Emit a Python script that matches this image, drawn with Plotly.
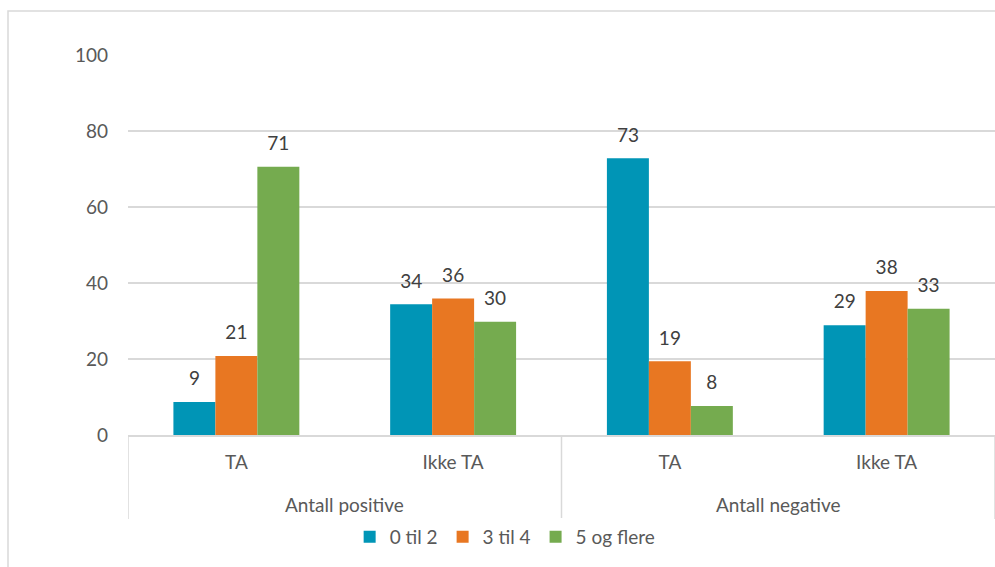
import plotly.graph_objects as go

group_names = ["Antall positive", "Antall negative"]
category_keys = ["pos_TA", "pos_IkkeTA", "neg_TA", "neg_IkkeTA"]
tick_labels = ["TA", "Ikke TA", "TA", "Ikke TA"]
series_names = ["0 til 2", "3 til 4", "5 og flere"]
v_0til2 = [8.7, 34.4, 72.8, 28.9]
v_3til4 = [20.8, 35.9, 19.4, 37.9]
v_5ogflere = [70.6, 29.8, 7.6, 33.2]
colors = ["#0095B6", "#E87722", "#75AB4F"]

font_family = "Lato, 'Source Sans Pro', 'Noto Sans', sans-serif"
text_color = "#595959"
grid = "#D9D9D9"
FS = 19

fig = go.Figure()
for name, vals, col in zip(series_names, [v_0til2, v_3til4, v_5ogflere], colors):
    fig.add_trace(go.Bar(
        x=category_keys, y=vals, name=name,
        marker=dict(color=col, line=dict(width=0)),
        texttemplate="<span style='font-size:" + str(FS) + "px'>%{y:.0f}</span><br>&nbsp;",
        textposition="outside",
        textfont=dict(size=9, color="#404040", family=font_family),
        cliponaxis=False,
    ))

annotations = []
for i, g in enumerate(group_names):
    annotations.append(dict(x=2 * i + 0.5, xref="x", y=(435 - 505) / 380, yref="paper",
                            text=g, showarrow=False, yanchor="middle", xanchor="center",
                            font=dict(size=FS, color=text_color, family=font_family)))

shapes = [dict(type="rect", xref="paper", yref="paper",
               x0=(8 - 128) / 867, x1=1.2, y0=-0.6, y1=(435 - 11) / 380,
               line=dict(color=grid, width=1.5), layer="below")]
for xd in [-0.5, 1.5, 3.5]:
    shapes.append(dict(type="line", xref="x", yref="paper", x0=xd, x1=xd,
                       y0=0, y1=(435 - 519) / 380, line=dict(color=grid, width=1.5)))

fig.update_layout(
    width=995, height=567,
    margin=dict(l=128, r=0, t=55, b=132),
    paper_bgcolor="white", plot_bgcolor="white",
    barmode="group", bargap=0.419, bargroupgap=0,
    font=dict(family=font_family, size=FS, color=text_color),
    showlegend=True,
    legend=dict(orientation="h", x=0.435, xanchor="center", y=(435 - 537) / 380, yanchor="middle",
                font=dict(size=FS, color=text_color), traceorder="normal"),
    xaxis=dict(type="category", range=[-0.5, 3.5], showline=True, linecolor=grid, linewidth=1.5,
               tickmode="array", tickvals=category_keys, ticktext=tick_labels,
               ticks="", ticklabelstandoff=9, automargin=False,
               tickfont=dict(size=FS, color=text_color)),
    yaxis=dict(range=[0, 100], dtick=20, showgrid=True, gridcolor=grid, gridwidth=1.5,
               zeroline=False, showline=False, ticklabelstandoff=19, automargin=False,
               tickfont=dict(size=FS, color=text_color)),
    annotations=annotations,
    shapes=shapes,
)

fig.write_html("out.html", config={"displayModeBar": False},
               post_script="document.body.style.margin='0';document.body.style.overflow='hidden';")
